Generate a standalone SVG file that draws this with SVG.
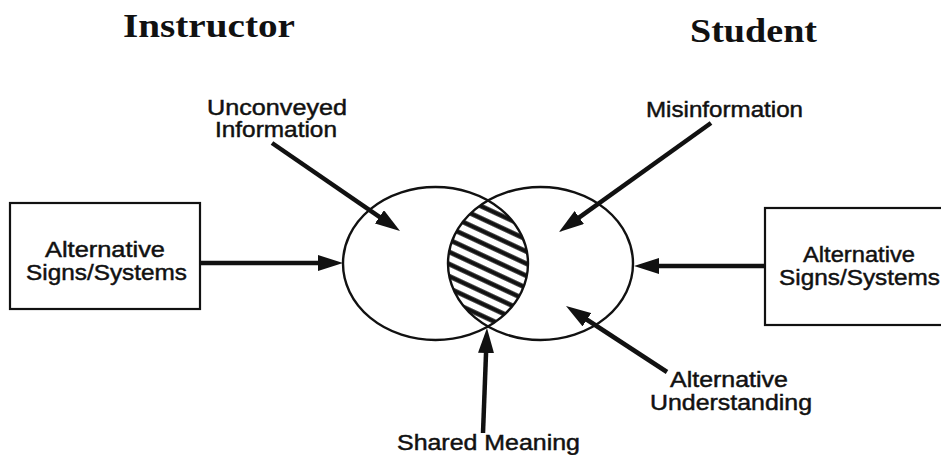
<svg xmlns="http://www.w3.org/2000/svg" width="941" height="455" viewBox="0 0 941 455">
  <style>
    .title { font-family: "Liberation Serif", "Times New Roman", serif; font-weight: bold; font-size: 33px; fill: #111; }
    .label { font-family: "Liberation Sans", Arial, sans-serif; font-size: 21.5px; fill: #111; stroke: #111; stroke-width: 0.45; }
    .box { fill: #fff; stroke: #111; stroke-width: 2.2; }
    .ring { fill: none; stroke: #111; stroke-width: 2.4; }
    .arrow { fill: none; stroke: #111; stroke-width: 4.5; marker-end: url(#head); }
  </style>
  <defs>
    <marker id="head" markerUnits="userSpaceOnUse" markerWidth="26" markerHeight="16" refX="15" refY="8" orient="auto">
      <path d="M0,0 L25,8 L0,16 Z" fill="#111"/>
    </marker>
    <pattern id="hatch" patternUnits="userSpaceOnUse" width="10" height="11" patternTransform="rotate(25)">
      <rect width="10" height="11" fill="#fff"/>
      <line x1="0" y1="5.5" x2="10" y2="5.5" stroke="#111" stroke-width="4.6"/>
    </pattern>
    <clipPath id="leftRing">
      <ellipse cx="435.5" cy="263.5" rx="92.5" ry="76.5"/>
    </clipPath>
  </defs>

  <rect width="941" height="455" fill="#fff"/>

  <!-- column headings -->
  <text class="title" x="123" y="37" textLength="172" lengthAdjust="spacingAndGlyphs">Instructor</text>
  <text class="title" x="690" y="42" textLength="127" lengthAdjust="spacingAndGlyphs">Student</text>

  <!-- overlapping circles of meaning, shared region hatched -->
  <g id="overlap">
    <ellipse cx="540.5" cy="263.5" rx="92.5" ry="76.5" fill="url(#hatch)" clip-path="url(#leftRing)"/>
    <ellipse class="ring" cx="435.5" cy="263.5" rx="92.5" ry="76.5"/>
    <ellipse class="ring" cx="540.5" cy="263.5" rx="92.5" ry="76.5"/>
  </g>

  <g id="instructor-signs">
    <rect class="box" x="10" y="203" width="190" height="106"/>
    <text class="label" x="45" y="257" textLength="120" lengthAdjust="spacingAndGlyphs">Alternative</text>
    <text class="label" x="26" y="280" textLength="161" lengthAdjust="spacingAndGlyphs">Signs/Systems</text>
  </g>

  <g id="student-signs">
    <rect class="box" x="765" y="208" width="200" height="117"/>
    <text class="label" x="803" y="262" textLength="112" lengthAdjust="spacingAndGlyphs">Alternative</text>
    <text class="label" x="779" y="285" textLength="161" lengthAdjust="spacingAndGlyphs">Signs/Systems</text>
  </g>

  <g id="unconveyed">
    <text class="label" x="207" y="115" textLength="140" lengthAdjust="spacingAndGlyphs">Unconveyed</text>
    <text class="label" x="215" y="137" textLength="122" lengthAdjust="spacingAndGlyphs">Information</text>
  </g>

  <g id="misinformation">
    <text class="label" x="646" y="117" textLength="157" lengthAdjust="spacingAndGlyphs">Misinformation</text>
  </g>

  <g id="alternative-understanding">
    <text class="label" x="670" y="387" textLength="118" lengthAdjust="spacingAndGlyphs">Alternative</text>
    <text class="label" x="650" y="410" textLength="162" lengthAdjust="spacingAndGlyphs">Understanding</text>
  </g>

  <g id="shared-meaning">
    <text class="label" x="397" y="450" textLength="183" lengthAdjust="spacingAndGlyphs">Shared Meaning</text>
  </g>

  <g id="connectors">
    <line class="arrow" x1="201" y1="263" x2="333" y2="263"/>
    <line class="arrow" x1="765" y1="266" x2="644" y2="266"/>
    <line class="arrow" x1="272" y1="143" x2="391.8" y2="225.3"/>
    <line class="arrow" x1="711" y1="123" x2="567.1" y2="226.2"/>
    <line class="arrow" x1="667" y1="372" x2="574.4" y2="311.5"/>
    <line class="arrow" x1="483" y1="433" x2="486.6" y2="338"/>
  </g>
</svg>
